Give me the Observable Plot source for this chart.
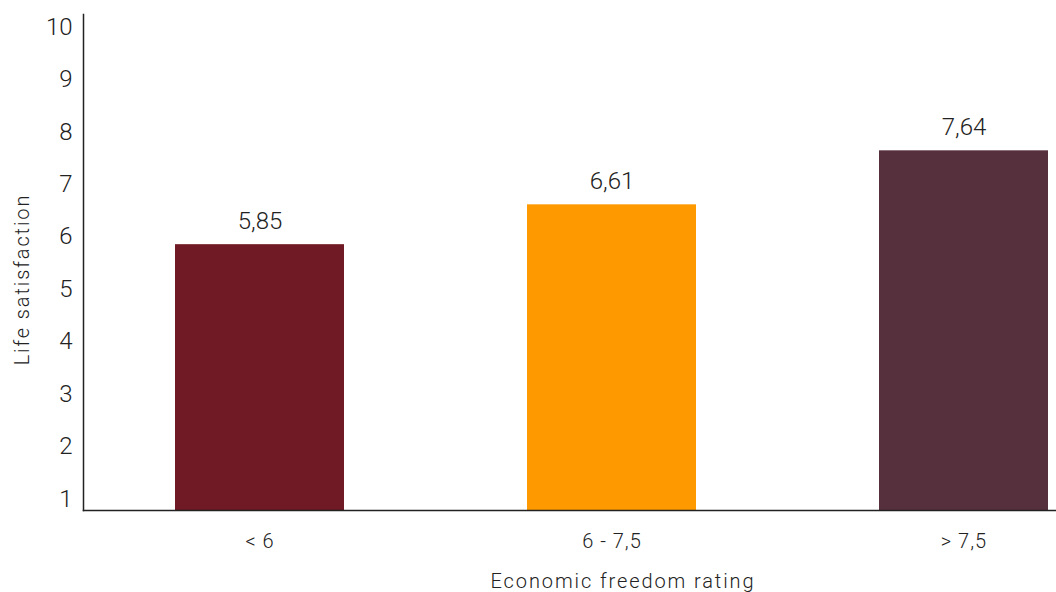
<!DOCTYPE html>
<html><head><meta charset="utf-8">
<script src="https://cdn.jsdelivr.net/npm/d3@7"></script>
<script src="https://cdn.jsdelivr.net/npm/@observablehq/plot@0.6"></script>
<style>
body{margin:0;background:#fff;overflow:hidden}
#c{width:1056px;height:592px;overflow:hidden}
</style>
</head><body><div id="c"></div>
<script>
const categories = ["< 6", "6 - 7,5", "> 7,5"];
const values = [5.85, 6.61, 7.64];
const colors = ["#6f1a24", "#fe9900", "#56303c"];
const yTicks = [1, 2, 3, 4, 5, 6, 7, 8, 9, 10];
const xTitle = "Economic freedom rating";
const yTitle = "Life satisfaction";

const data = categories.map((c, i) => ({cat: c, value: values[i]}));
const yMin = 0.78, yMax = 10.24;
const fmt = v => d3.format(".2f")(v).replace(".", ",");
const font = "Roboto, 'DejaVu Sans Condensed', sans-serif";

const plot = Plot.plot({
  width: 1056, height: 592,
  marginLeft: 83, marginRight: 0, marginTop: 14, marginBottom: 82,
  x: {domain: categories, range: [83, 1140], paddingInner: 0.52, paddingOuter: 0.26},
  y: {domain: [yMin, yMax]},
  color: {domain: categories, range: colors},
  style: {fontFamily: font, fontWeight: 300, color: "#222", background: "#fff", overflow: "hidden"},
  marks: [
    Plot.barY(data, {x: "cat", y1: yMin, y2: "value", fill: "cat"}),
    Plot.text(data, {x: "cat", y: "value", text: d => fmt(d.value), dy: -16, lineAnchor: "bottom", fontSize: 24, fill: "#222"}),
    Plot.axisX({tickSize: 0, tickPadding: 23, fontSize: 20, label: null, fill: "#222", className: "xt"}),
    Plot.axisY({ticks: yTicks, tickSize: 0, tickPadding: 11, fontSize: 24, label: null, tickFormat: d => String(d), fill: "#222"}),
    Plot.frame({anchor: "left", stroke: "#222", strokeWidth: 1.5}),
    Plot.frame({anchor: "bottom", stroke: "#222", strokeWidth: 1.5}),
    Plot.text([xTitle], {frameAnchor: "bottom", textAnchor: "middle", text: d => d, dx: 53, dy: 77, fontSize: 20, fill: "#222", className: "ttl"}),
    Plot.text([yTitle], {frameAnchor: "left", textAnchor: "middle", text: d => d, rotate: -90, dx: -61, dy: 17, fontSize: 20, fill: "#222", className: "ttl"})
  ]
});
d3.select(plot).selectAll(".ttl text").style("letter-spacing", "1.9px");
d3.select(plot).selectAll(".xt text").style("letter-spacing", "1px");
document.getElementById("c").appendChild(plot);
</script>
</body></html>
